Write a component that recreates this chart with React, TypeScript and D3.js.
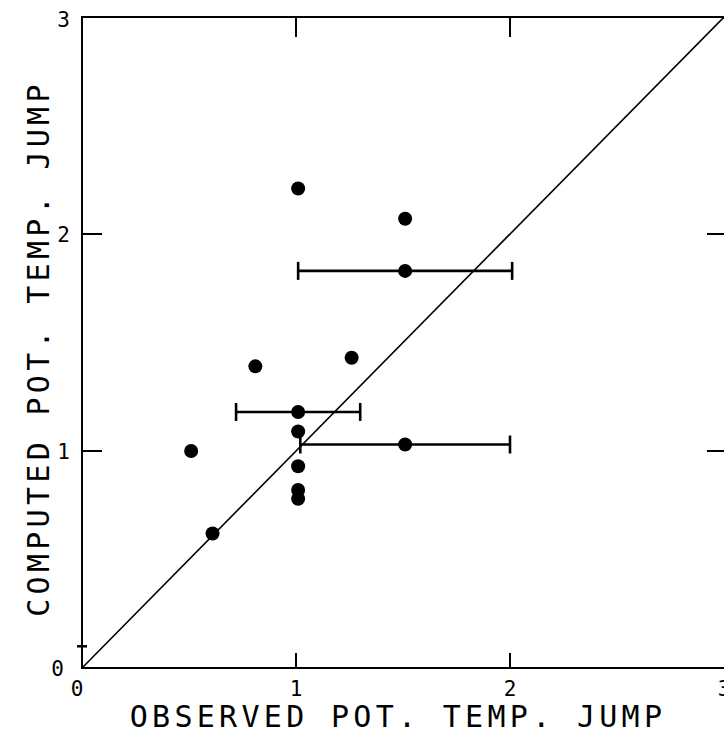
import React from 'react';
import { scaleLinear } from 'd3';

// observed vs computed potential temperature jump
const observed = [1.01, 1.51, 1.51, 1.26, 0.81, 1.01, 1.01, 0.51, 1.51, 1.01, 1.01, 1.01, 0.61];
const computed = [2.21, 2.07, 1.83, 1.43, 1.39, 1.18, 1.09, 1.0, 1.03, 0.93, 0.82, 0.78, 0.62];

// horizontal error bars
const barY = [1.83, 1.18, 1.03];
const barLow = [1.01, 0.72, 1.02];
const barHigh = [2.01, 1.3, 2.0];

const ticks = [0, 1, 2, 3];
const xTitle = 'OBSERVED POT. TEMP. JUMP';
const yTitle = 'COMPUTED POT. TEMP. JUMP';

const W = 724;
const H = 734;
const font = '"DejaVu Sans Mono", monospace';

export default function App() {
  const margin = { top: 17, right: 0, bottom: 66, left: 82 };
  const x = scaleLinear().domain([0, 3]).range([margin.left, W - margin.right]);
  const y = scaleLinear().domain([0, 3]).range([H - margin.bottom, margin.top]);
  const x0 = x(0), x1 = x(3), y0 = y(0), y1 = y(3);

  return (
    <svg width={W} height={H} style={{ position: 'absolute', left: 0, top: 0, background: '#fff' }}>
      {/* frame */}
      <rect x={x0} y={y1} width={x1 - x0 + 1} height={y0 - y1} fill="none" stroke="#000" strokeWidth={2} />

      {/* inner ticks */}
      {ticks.slice(1, 3).map(t => (
        <g key={'t' + t} stroke="#000" strokeWidth={2}>
          <line x1={x0} x2={x0 + 20} y1={y(t)} y2={y(t)} />
          <line x1={x1} x2={x1 - 17} y1={y(t)} y2={y(t)} />
          <line x1={x(t)} x2={x(t)} y1={y1} y2={y1 + 20} />
          <line x1={x(t)} x2={x(t)} y1={y0} y2={y0 - 15} />
        </g>
      ))}

      {/* small mark on the left axis */}
      <line x1={x0 - 5} x2={x0 + 5} y1={y(0.1)} y2={y(0.1)} stroke="#000" strokeWidth={2.5} />

      {/* tick labels */}
      {ticks.map(t => (
        <text key={'xl' + t} x={x(t) - (t === 0 ? 5 : 0)} y={y0 + 28} fontFamily={font} fontSize={21}
          textAnchor="middle">{t}</text>
      ))}
      {ticks.map(t => (
        <text key={'yl' + t} x={x0 - (t === 0 ? 18 : 12)} y={y(t) + (t === 3 ? 10 : t === 0 ? 8 : 8)}
          fontFamily={font} fontSize={21} textAnchor="end">{t}</text>
      ))}

      {/* 1:1 line */}
      <line x1={x(0)} y1={y(0)} x2={x(3)} y2={y(3)} stroke="#000" strokeWidth={1.6} />

      {/* error bars */}
      {barY.map((v, i) => (
        <g key={'b' + i} stroke="#000" strokeWidth={2.6}>
          <line x1={x(barLow[i])} x2={x(barHigh[i])} y1={y(v)} y2={y(v)} />
          <line x1={x(barLow[i])} x2={x(barLow[i])} y1={y(v) - 9} y2={y(v) + 9} />
          <line x1={x(barHigh[i])} x2={x(barHigh[i])} y1={y(v) - 9} y2={y(v) + 9} />
        </g>
      ))}

      {/* points */}
      {observed.map((v, i) => (
        <circle key={'p' + i} cx={x(v)} cy={y(computed[i])} r={7} fill="#000" />
      ))}

      {/* axis titles */}
      <text x={398} y={727} fontFamily={font} fontSize={30} letterSpacing={4.3}
        textAnchor="middle">{xTitle}</text>
      <text transform={`translate(49, ${(y0 + y1) / 2 + 6}) rotate(-90)`} fontFamily={font} fontSize={30}
        letterSpacing={4.3} textAnchor="middle">{yTitle}</text>
    </svg>
  );
}
